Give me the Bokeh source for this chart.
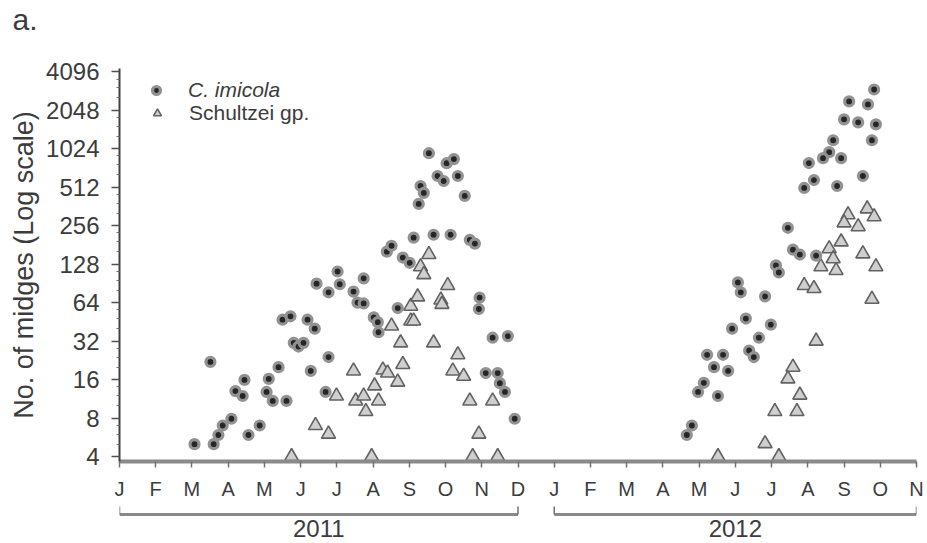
from bokeh.plotting import figure
from bokeh.models import Range1d, FixedTicker, Legend, LegendItem, ColumnDataSource, Title
from bokeh.layouts import column
from bokeh.embed import file_html
from bokeh.resources import INLINE
from bokeh.core.properties import value

FONT = "Liberation Sans"
TXT = "#3c3c3c"

# ---- axis categories ----
month_labels = ["J", "F", "M", "A", "M", "J", "J", "A", "S", "O", "N", "D",
                "J", "F", "M", "A", "M", "J", "J", "A", "S", "O", "N"]
y_ticks = [4, 8, 16, 32, 64, 128, 256, 512, 1024, 2048, 4096]
years = ["2011", "2012"]
year_start = [0, 12]
year_end = [11, 22]
panel_label = "a."

# ---- data: month index (0 = Jan 2011), count ----
imicola_2011_month = [2.07, 2.51, 2.60, 2.73, 2.85, 3.09, 3.20, 3.40, 3.45, 3.56, 3.87, 4.06, 4.12,
                      4.23, 4.39, 4.61, 4.50, 4.72, 5.19, 5.39, 4.81, 4.94, 5.08, 5.28, 5.44, 5.69,
                      5.77, 5.77, 6.02, 6.08, 6.74, 6.46, 6.57, 6.74, 7.02, 7.13, 7.15, 7.38, 7.51,
                      7.82, 8.01, 7.68, 8.54, 9.03, 9.23, 8.78, 8.95, 9.34, 8.31, 8.40, 8.26, 9.53,
                      8.12, 8.67, 9.14, 9.67, 9.81, 9.94, 9.92, 10.30, 10.72, 10.11, 10.44, 10.50,
                      10.64, 10.91]
imicola_2011_count = [5.0, 22, 5.0, 5.9, 7.0, 7.9, 13, 11.9, 15.9, 5.9, 7.0, 12.8, 16.2,
                      10.9, 20, 10.9, 47, 50, 47, 40, 31, 29, 31, 18.7, 90, 12.8,
                      24, 77, 112, 89, 99, 78, 64, 63, 49, 45, 37.5, 160, 178,
                      144, 131, 58, 942, 787, 847, 625, 571, 625, 522, 461, 378, 437,
                      206, 217, 217, 198, 185, 70, 57, 34, 35, 18, 18, 15,
                      12.8, 7.9]

imicola_2012_month = [20.83, 20.14, 20.66, 20.00, 20.39, 20.88, 19.70, 20.77, 19.59, 19.42, 19.92,
                      19.03, 20.52, 19.17, 18.90, 19.81, 18.45, 18.59, 18.78, 19.23, 18.12, 18.20,
                      17.07, 17.15, 17.82, 17.29, 16.91, 17.98, 17.65, 17.38, 17.51, 16.22, 16.66,
                      16.41, 16.80, 16.13, 15.97, 16.52, 15.80, 15.66]
imicola_2012_count = [2968, 2394, 2268, 1734, 1643, 1585, 1190, 1190, 960, 862, 862,
                      789, 625, 581, 504, 522, 246, 166, 152, 149, 125, 110,
                      92, 77, 71.5, 48, 40, 43, 34, 27, 24, 25, 25,
                      20, 18.7, 15.1, 12.8, 11.9, 7.0, 5.9]

schultzei_2011_month = [4.75, 5.41, 5.77, 5.99, 6.46, 6.52, 6.74, 6.80, 7.04, 7.15, 7.27, 7.40,
                        6.96, 7.51, 7.68, 7.76, 7.82, 8.04, 8.04, 8.12, 8.23, 8.31, 8.40, 8.54,
                        8.67, 8.87, 8.90, 9.06, 9.34, 9.20, 9.50, 9.67, 9.92, 10.30, 9.75, 10.44]
schultzei_2011_count = [4, 7, 6, 11.9, 18.7, 10.9, 11.9, 9, 14.3, 10.9, 19, 18,
                        4, 42, 15.3, 31, 21, 60, 46, 46, 71, 122, 106, 152,
                        31, 67, 62, 87, 25, 18.7, 17, 10.9, 6, 10.9, 4, 4]

schultzei_2012_month = [20.11, 20.00, 20.64, 20.83, 20.39, 19.92, 19.59, 19.70, 19.36, 19.78, 20.52,
                        20.88, 18.90, 19.17, 20.77, 19.23, 18.59, 18.45, 18.78, 18.09, 18.70, 17.82,
                        16.52, 18.20]
schultzei_2012_count = [311, 269, 346, 300, 251, 191, 169, 141, 122, 114, 154,
                        122, 87, 82.5, 68, 32, 20, 16.2, 12.1, 9, 9, 5.05,
                        4, 4]

W = 927

# top strip carrying the panel letter as a title
H0 = 40
p0 = figure(width=W, height=H0, x_range=Range1d(0, 1), y_range=Range1d(0, 1),
            x_axis_type=None, y_axis_type=None, output_backend="svg", toolbar_location=None,
            min_border_left=119, min_border_right=11, min_border_top=0, min_border_bottom=0)
p0.outline_line_color = None
p0.grid.visible = False
p0.title = Title(text=panel_label, align="left", offset=-107, standoff=0,
                 text_font=FONT, text_font_size="30px", text_font_style="normal",
                 text_color=TXT)

p = figure(width=W, height=462, x_range=Range1d(0, 22), y_range=Range1d(3.66, 4330),
           y_axis_type="log", output_backend="svg", toolbar_location=None,
           min_border_left=119, min_border_right=11, min_border_top=28, min_border_bottom=39)
p.grid.visible = False
p.outline_line_color = None
p.background_fill_color = "white"

src_c = ColumnDataSource(dict(x=imicola_2011_month + imicola_2012_month,
                              y=imicola_2011_count + imicola_2012_count))
src_t = ColumnDataSource(dict(x=schultzei_2011_month + schultzei_2012_month,
                              y=schultzei_2011_count + schultzei_2012_count))

rt = p.scatter("x", "y", source=src_t, marker="triangle", size=14,
               fill_color="#cfcfcf", line_color="#626262", line_width=1.6)
rc = p.scatter("x", "y", source=src_c, marker="circle", size=9,
               fill_color="#262626", line_color="#929292", line_width=3.2)

# x axis
xa = p.xaxis[0]
xa.ticker = FixedTicker(ticks=list(range(len(month_labels))))
xa.major_label_overrides = {i: m for i, m in enumerate(month_labels)}
xa.axis_line_width = 4
xa.axis_line_color = "#8a8a8a"
xa.major_tick_line_color = "#707070"
xa.major_tick_line_width = 1.5
xa.major_tick_out = 6
xa.major_tick_in = 0
xa.minor_tick_line_color = None
xa.major_label_standoff = 10
xa.major_label_text_font = FONT
xa.major_label_text_font_size = "20px"
xa.major_label_text_color = TXT

# y axis
ya = p.yaxis[0]
minor = []
for t in y_ticks[:-1]:
    minor += [t * 1.25, t * 1.5, t * 1.75]
ya.ticker = FixedTicker(ticks=y_ticks, minor_ticks=minor)
ya.major_label_overrides = {t: str(t) for t in y_ticks}
ya.axis_line_width = 2
ya.axis_line_color = "#404040"
ya.major_tick_line_color = "#505050"
ya.major_tick_line_width = 1.5
ya.major_tick_out = 8
ya.major_tick_in = 0
ya.minor_tick_line_color = "#707070"
ya.minor_tick_out = 3
ya.minor_tick_in = 0
ya.major_label_standoff = 12
ya.major_label_text_font = FONT
ya.major_label_text_font_size = "24px"
ya.major_label_text_color = TXT
ya.axis_label = "No. of midges (Log scale)"
ya.axis_label_text_font = FONT
ya.axis_label_text_font_size = "27px"
ya.axis_label_text_font_style = "normal"
ya.axis_label_text_color = TXT
ya.axis_label_standoff = 4

# legends (italic species name, plain group name)
leg_common = dict(padding=0, margin=0, spacing=0, glyph_width=20, glyph_height=20,
                  label_height=20, label_standoff=22, background_fill_alpha=0,
                  border_line_color=None, label_text_font=FONT,
                  label_text_font_size="21px", label_text_color=TXT)
leg1 = Legend(items=[LegendItem(label="C. imicola", renderers=[rc])],
              location=(27, 359), label_text_font_style="italic", **leg_common)
leg2 = Legend(items=[LegendItem(label="Schultzei gp.", renderers=[rt])],
              location=(28, 336), **leg_common)
p.add_layout(leg1)
p.add_layout(leg2)

# year brackets below
H2 = 41
p2 = figure(width=W, height=H2, x_range=p.x_range, y_range=Range1d(0, H2),
            x_axis_type=None, y_axis_type=None, output_backend="svg", toolbar_location=None,
            min_border_left=119, min_border_right=11, min_border_top=0, min_border_bottom=0)
p2.outline_line_color = None
p2.grid.visible = False
ysrc = ColumnDataSource(dict(x0=year_start, x1=year_end, label=years,
                             mid=[(a + b) / 2 for a, b in zip(year_start, year_end)]))
p2.segment(x0="x0", y0=29, x1="x1", y1=29, source=ysrc, line_color="#8a8a8a", line_width=3)
p2.segment(x0="x0", y0=29, x1="x0", y1=37, source=ysrc, line_color="#707070", line_width=1.5)
p2.segment(x0="x1", y0=29, x1="x1", y1=37, source=ysrc, line_color="#707070", line_width=1.5)
p2.text(x="mid", y=15, text="label", source=ysrc, text_align="center", text_baseline="middle",
        text_font=value(FONT), text_font_size="24px", text_color=TXT)

layout = column(p0, p, p2, spacing=0)
open("out.html", "w").write(file_html(layout, INLINE))
